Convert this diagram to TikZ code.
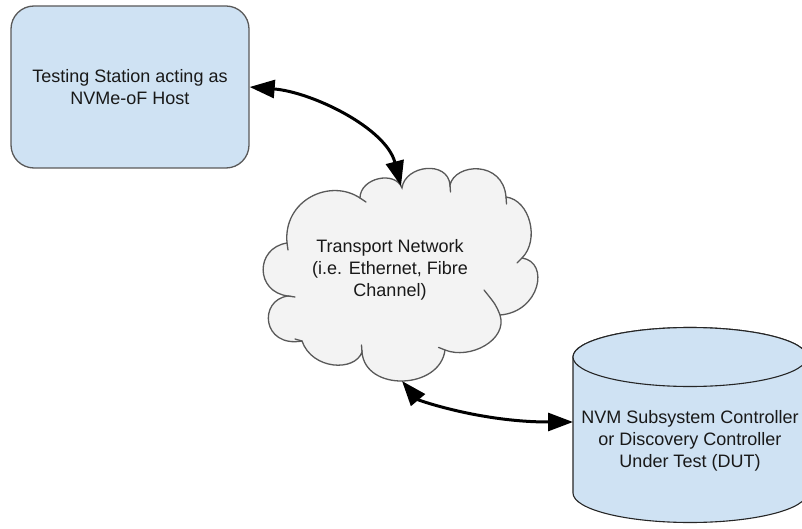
\documentclass[tikz,border=0pt]{standalone}
\usepackage{fontspec}
\setmainfont{Liberation Sans}
\usetikzlibrary{arrows.meta}
\definecolor{boxblue}{HTML}{CFE2F3}
\definecolor{cloudgray}{HTML}{F3F3F3}
\definecolor{edgegray}{HTML}{595959}
\begin{document}
\begin{tikzpicture}[x=1pt,y=-1pt,
  lbl/.style={font=\fontsize{18}{21.7}\selectfont, align=center, text=black!90, inner sep=0pt},
  hostbox/.style={draw=edgegray, fill=boxblue, line width=1.3pt, rounded corners=23pt, minimum width=238pt, minimum height=162pt, inner sep=0pt, lbl},
  biarrow/.style={line width=3pt, {Triangle[length=25pt,width=18pt]}-{Triangle[length=25pt,width=18pt]}},
  cloudline/.style={draw=edgegray, fill=cloudgray, line width=1.3pt},
  hookline/.style={draw=edgegray, line width=1.3pt, line cap=round},
  cylline/.style={draw=black!85, fill=boxblue, line width=1.1pt}]
\useasboundingbox (0,0) rectangle (802,529);
\clip (0,0) rectangle (802,529);
% host box
\node[hostbox] (host) at (130,87) {Testing Station acting as\\NVMe-oF Host};
% cloud
\path[cloudline] (287,243)
  .. controls (283,200) and (330,178) .. (360,198)
  .. controls (360,178) and (395,170) .. (402,188)
  .. controls (405,165) and (448,160) .. (450,185)
  .. controls (455,163) and (503,160) .. (506,197)
  .. controls (530,200) and (540,240) .. (522,258)
  .. controls (550,262) and (540,312) .. (500,315)
  .. controls (508,340) and (470,360) .. (445,350)
  .. controls (440,390) and (365,392) .. (362,352)
  .. controls (355,372) and (312,370) .. (302,341)
  .. controls (262,348) and (258,300) .. (288,296)
  .. controls (255,292) and (255,248) .. (287,243) -- cycle;
% small inner hooks of the puffs
\draw[hookline] (360,198) -- (366,202);
\draw[hookline] (450,185) -- (450.5,192);
\draw[hookline] (506,197) -- (506.5,204);
\draw[hookline] (522,258) -- (517,263);
\draw[hookline] (500,315) .. controls (496,305) .. (484,290);
\draw[hookline] (445,350) -- (438.5,347.4);
\draw[hookline] (362,352) -- (361.5,345);
\draw[hookline] (302,341) -- (295,339);
\draw[hookline] (288,296) -- (295,297);
\draw[hookline] (287,243) -- (288,250);
\node[lbl] (net) at (390,270) {Transport Network\\(i.e. Ethernet, Fibre\\Channel)};
\coordinate (netN) at (401,186);
\coordinate (netS) at (402,381);
% cylinder
\path[cylline] (573,357) -- (573,493) arc[start angle=180, end angle=0, x radius=117, y radius=29.5] -- (807,357) arc[start angle=0, end angle=-180, x radius=117, y radius=29.5] -- cycle;
\draw[cylline] (690,357) ellipse[x radius=117, y radius=29.5];
\node[lbl] (dut) at (690,441) {NVM Subsystem Controller\\or Discovery Controller\\Under Test (DUT)};
\coordinate (dutW) at (573,422);
% arrows
\draw[biarrow] (host.east) .. controls (312,92) and (386,128) .. (netN);
\draw[biarrow] (netS) .. controls (418,400) and (480,422) .. (dutW);
\end{tikzpicture}
\end{document}
